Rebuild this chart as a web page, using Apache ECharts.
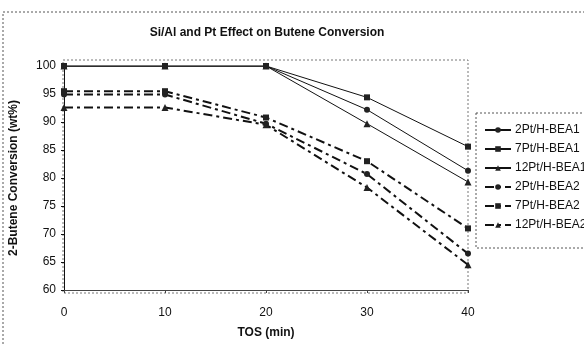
<!DOCTYPE html>
<html>
<head>
<meta charset="utf-8">
<script src="https://cdn.jsdelivr.net/npm/echarts@6/dist/echarts.min.js"></script>
<style>
  html, body { margin: 0; padding: 0; background: #fff; }
  #chart { width: 584px; height: 344px; }
</style>
</head>
<body>
<div id="chart"></div>
<script>
// TOS (min)
const tos = [0, 10, 20, 30, 40]
// 2-Butene conversion (wt%)
const pt2Bea1 = [100, 100, 100, 92.2, 81.3]
const pt7Bea1 = [100, 100, 100, 94.4, 85.6]
const pt12Bea1 = [100, 100, 100, 89.7, 79.3]
const pt2Bea2 = [94.9, 94.9, 89.7, 80.7, 66.5]
const pt7Bea2 = [95.5, 95.5, 90.8, 83.0, 71.0]
const pt12Bea2 = [92.6, 92.6, 89.5, 78.3, 64.5]
const yTicks = [60, 65, 70, 75, 80, 85, 90, 95, 100]

const seriesDefs = [
  { name: '2Pt/H-BEA1', values: pt2Bea1, symbol: 'circle', dash: 'solid' },
  { name: '7Pt/H-BEA1', values: pt7Bea1, symbol: 'rect', dash: 'solid' },
  { name: '12Pt/H-BEA1', values: pt12Bea1, symbol: 'triangle', dash: 'solid' },
  { name: '2Pt/H-BEA2', values: pt2Bea2, symbol: 'circle', dash: [9, 4, 3, 4] },
  { name: '7Pt/H-BEA2', values: pt7Bea2, symbol: 'rect', dash: [9, 4, 3, 4] },
  { name: '12Pt/H-BEA2', values: pt12Bea2, symbol: 'triangle', dash: [9, 4, 3, 4] }
]

const font = 'Liberation Sans, Arial, sans-serif'
const myChart = echarts.init(document.getElementById('chart'), null, { renderer: 'canvas' })

const options = {
  animation: false,
  backgroundColor: '#fff',
  title: {
    text: 'Si/Al and Pt Effect on Butene Conversion',
    left: 262,
    textAlign: 'center',
    top: 22,
    textStyle: { fontFamily: font, fontSize: 12, fontWeight: 'bold', color: '#111' }
  },
  graphic: [
    {
      type: 'rect',
      shape: { x: 3, y: 12, width: 590, height: 340 },
      style: { fill: 'none', stroke: '#555', lineWidth: 1, lineDash: [2, 2] },
      silent: true
    },
    {
      type: 'rect',
      shape: { x: 63, y: 60, width: 405, height: 233 },
      style: { fill: 'none', stroke: '#777', lineWidth: 1, lineDash: [2, 2] },
      silent: true
    },
    {
      type: 'rect',
      shape: { x: 476, y: 113, width: 120, height: 135 },
      style: { fill: 'none', stroke: '#555', lineWidth: 1, lineDash: [2, 2] },
      silent: true
    }
  ],
  legend: {
    orient: 'vertical',
    left: 479,
    top: 119,
    itemGap: 7,
    itemWidth: 26,
    itemHeight: 7,
    textStyle: { fontFamily: font, fontSize: 12, color: '#111', padding: [0, 0, 0, -1] },
    data: seriesDefs.map(s => s.name)
  },
  grid: {
    left: 63,
    right: 116,
    top: 66,
    bottom: 51
  },
  xAxis: {
    type: 'value',
    min: 0,
    max: 40,
    interval: 10,
    name: 'TOS (min)',
    nameLocation: 'middle',
    nameGap: 37,
    nameTextStyle: { fontFamily: font, fontSize: 12, fontWeight: 'bold', color: '#111' },
    axisLine: { lineStyle: { color: '#444', width: 1 } },
    axisTick: { inside: false, length: 3, lineStyle: { color: '#444' } },
    axisLabel: { fontFamily: font, fontSize: 12, color: '#111', margin: 17 },
    splitLine: { show: false }
  },
  yAxis: {
    type: 'value',
    min: yTicks[0],
    max: yTicks[yTicks.length - 1],
    interval: 5,
    name: '2-Butene Conversion (wt%)',
    nameLocation: 'middle',
    nameGap: 44,
    nameTextStyle: { fontFamily: font, fontSize: 12, fontWeight: 'bold', color: '#111' },
    axisLine: { show: true, lineStyle: { color: '#111', width: 1 } },
    axisTick: { show: true, length: 3, lineStyle: { color: '#111' } },
    axisLabel: { fontFamily: font, fontSize: 12, color: '#111', margin: 8 },
    splitLine: { show: false }
  },
  series: seriesDefs.map(s => ({
    name: s.name,
    type: 'line',
    data: s.values.map((v, i) => [tos[i], v]),
    symbol: s.symbol,
    symbolSize: s.symbol === 'triangle' ? 7 : 6,
    itemStyle: { color: '#222' },
    lineStyle: {
      color: '#111',
      width: s.dash === 'solid' ? 1 : 2,
      type: s.dash
    }
  }))
}

myChart.setOption(options)
</script>
</body>
</html>
